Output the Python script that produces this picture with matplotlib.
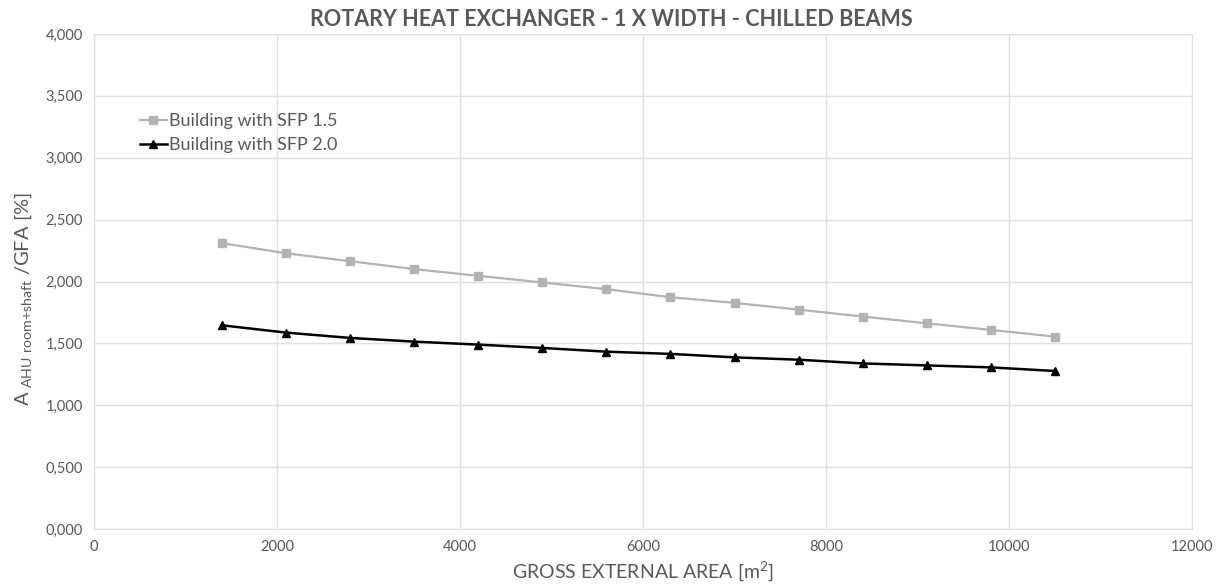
import matplotlib
matplotlib.use("Agg")
import matplotlib.pyplot as plt
from matplotlib.ticker import FuncFormatter

# Gross external area [m2] and AHU room + shaft share of GFA [%]
gfa = [1400, 2100, 2800, 3500, 4200, 4900, 5600, 6300, 7000, 7700, 8400, 9100, 9800, 10500]
sfp_15 = [2.310, 2.228, 2.164, 2.100, 2.046, 1.992, 1.938, 1.873, 1.827, 1.773, 1.717, 1.662, 1.609, 1.555]
sfp_20 = [1.646, 1.587, 1.544, 1.514, 1.490, 1.463, 1.433, 1.415, 1.387, 1.368, 1.338, 1.322, 1.306, 1.277]

x_ticks = [0, 2000, 4000, 6000, 8000, 10000, 12000]
y_ticks = [0, 0.5, 1.0, 1.5, 2.0, 2.5, 3.0, 3.5, 4.0]

plt.rcParams['font.family'] = ['Lato', 'DejaVu Sans']
text_col = "#595959"
grid_col = "#e0e0e0"

fig = plt.figure(figsize=(12.23, 5.87), dpi=100)
ax = fig.add_axes([94 / 1223, 58 / 587, 1098 / 1223, 495 / 587])

ax.plot(gfa, sfp_15, color="#b3b3b3", lw=1.6, marker="s", markersize=6,
        label="Building with SFP 1.5")
ax.plot(gfa, sfp_20, color="black", lw=1.8, marker="^", markersize=6,
        label="Building with SFP 2.0")

ax.set_xlim(0, 12000)
ax.set_ylim(0, 4)
ax.set_xticks(x_ticks)
ax.set_yticks(y_ticks)
ax.yaxis.set_major_formatter(FuncFormatter(lambda v, p: f"{v:.3f}".replace(".", ",")))
ax.tick_params(length=0, labelsize=10.5, labelcolor=text_col, pad=8)
ax.grid(True, color=grid_col, lw=1)
ax.set_axisbelow(True)
for s in ax.spines.values():
    s.set_color(grid_col)

# title is centred on the whole figure, not on the plot area
fig.text(0.5, 1 - 20 / 587, "ROTARY HEAT EXCHANGER - 1 X WIDTH - CHILLED BEAMS",
         ha="center", va="center", fontsize=15.5, fontweight="bold", color=text_col)
ax.set_xlabel(r"GROSS EXTERNAL AREA [m$^{\mathregular{2}}$]", fontsize=14, color=text_col, labelpad=4)
ax.set_ylabel(r"A$_{\mathregular{\ AHU\ room{+}shaft}}$ /GFA [%]", fontsize=14.5, color=text_col)
ax.yaxis.set_label_coords(-0.055, 0.465)

leg = ax.legend(loc="upper left", bbox_to_anchor=(0.035, 0.855), frameon=False,
                fontsize=13, handlelength=1.5, handletextpad=0.1, labelspacing=0.45,
                borderaxespad=0)
for t in leg.get_texts():
    t.set_color(text_col)

fig.savefig("out.png", dpi=100)
